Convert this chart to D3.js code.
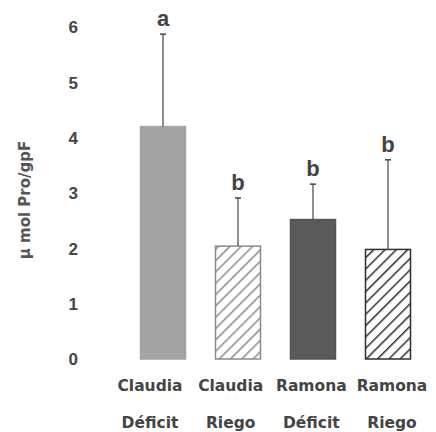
<!DOCTYPE html>
<html>
<head>
<meta charset="utf-8">
<script src="https://cdn.jsdelivr.net/npm/d3@7"></script>
<style>
  body { margin: 0; background: #fff; }
  text { font-family: "DejaVu Sans", Verdana, sans-serif; font-weight: bold; fill: #444; }
</style>
</head>
<body>
<div id="chart"></div>
<script>
var cultivars = ["Claudia", "Claudia", "Ramona", "Ramona"];
var treatments = ["Déficit", "Riego", "Déficit", "Riego"];
var means = [4.2, 2.04, 2.52, 1.98];
var errors = [1.67, 0.87, 0.64, 1.62];
var letters = ["a", "b", "b", "b"];
var yTicks = [0, 1, 2, 3, 4, 5, 6];

var width = 436, height = 432;
var keys = d3.range(means.length);

var svg = d3.select("#chart").append("svg")
	.attr("width", width)
	.attr("height", height);

// hatch patterns for the "Riego" bars
var defs = svg.append("defs");
function hatch(id, colour) {
	var p = defs.append("pattern")
		.attr("id", id)
		.attr("patternUnits", "userSpaceOnUse")
		.attr("width", 8)
		.attr("height", 8)
		.attr("patternTransform", "rotate(45)");
	p.append("rect").attr("width", 8).attr("height", 8).attr("fill", "#fff");
	p.append("line")
		.attr("x1", 0).attr("y1", 0).attr("x2", 0).attr("y2", 8)
		.attr("stroke", colour).attr("stroke-width", 3);
}
hatch("hatchLight", "#8a8a8a");
hatch("hatchDark", "#2e2e2e");

var fills = ["#a3a3a3", "url(#hatchLight)", "#5a5a5a", "url(#hatchDark)"];
var strokes = ["#a3a3a3", "#8a8a8a", "#555", "#2e2e2e"];

var x = d3.scaleBand()
	.domain(keys)
	.range([125.5, 425.5])
	.paddingInner(0.4)
	.paddingOuter(0.2);

var labelX = d3.scalePoint()
	.domain(keys)
	.range([150, 392]);

var y = d3.scaleLinear()
	.domain([0, 6])
	.range([359, 27]);

// y axis: labels only
var yAxis = d3.axisLeft(y).tickValues(yTicks).tickFormat(d3.format("d")).tickSize(0).tickPadding(0);
var gy = svg.append("g")
	.attr("transform", "translate(78,0)")
	.call(yAxis);
gy.select(".domain").remove();
gy.selectAll("text")
	.attr("dy", "0.35em")
	.style("font-size", "17px")
	.style("font-family", "Liberation Sans, Arial, sans-serif")
	.style("fill", "#444");

svg.append("text")
	.attr("transform", "translate(30,200) rotate(-90)")
	.attr("text-anchor", "middle")
	.style("font-size", "15px")
	.style("fill", "#555")
	.text("\u00b5 mol Pro/gpF");

// bars
svg.selectAll("rect.bar")
	.data(keys)
	.enter().append("rect")
	.attr("class", "bar")
	.attr("x", function (d) { return x(d); })
	.attr("y", function (d) { return y(means[d]); })
	.attr("width", x.bandwidth())
	.attr("height", function (d) { return y(0) - y(means[d]); })
	.attr("fill", function (d) { return fills[d]; })
	.attr("stroke", function (d) { return strokes[d]; })
	.attr("stroke-width", 1.5);

// error bars
var eb = svg.selectAll("g.err")
	.data(keys)
	.enter().append("g")
	.attr("class", "err");
eb.append("line")
	.attr("x1", function (d) { return x(d) + x.bandwidth() / 2; })
	.attr("x2", function (d) { return x(d) + x.bandwidth() / 2; })
	.attr("y1", function (d) { return y(means[d]); })
	.attr("y2", function (d) { return y(means[d] + errors[d]); })
	.attr("stroke", "#444")
	.attr("stroke-width", 1.2);
eb.append("line")
	.attr("x1", function (d) { return x(d) + x.bandwidth() / 2 - 3; })
	.attr("x2", function (d) { return x(d) + x.bandwidth() / 2 + 3; })
	.attr("y1", function (d) { return y(means[d] + errors[d]); })
	.attr("y2", function (d) { return y(means[d] + errors[d]); })
	.attr("stroke", "#444")
	.attr("stroke-width", 1.5);

// significance letters
svg.selectAll("text.letter")
	.data(keys)
	.enter().append("text")
	.attr("class", "letter")
	.attr("x", function (d) { return x(d) + x.bandwidth() / 2; })
	.attr("y", function (d) { return y(means[d] + errors[d]) - 8; })
	.attr("text-anchor", "middle")
	.style("font-size", "22px")
	.style("font-family", "Liberation Sans, Arial, sans-serif")
	.text(function (d) { return letters[d]; });

// category labels
svg.selectAll("text.cult")
	.data(keys)
	.enter().append("text")
	.attr("class", "cult")
	.attr("x", function (d) { return labelX(d); })
	.attr("y", 391)
	.attr("text-anchor", "middle")
	.style("font-size", "15.5px")
	.text(function (d) { return cultivars[d]; });

svg.selectAll("text.treat")
	.data(keys)
	.enter().append("text")
	.attr("class", "treat")
	.attr("x", function (d) { return labelX(d); })
	.attr("y", 428)
	.attr("text-anchor", "middle")
	.style("font-size", "15.5px")
	.text(function (d) { return treatments[d]; });
</script>
</body>
</html>
